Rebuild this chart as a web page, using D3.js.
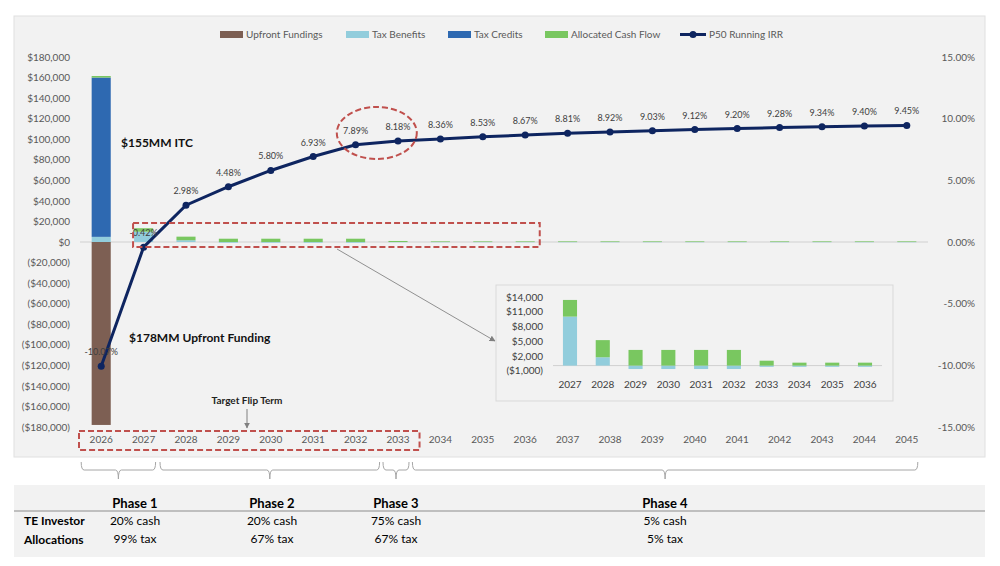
<html>
<head>
<title>TE Investor Flip</title>
<script src="https://cdnjs.cloudflare.com/ajax/libs/d3/7.8.5/d3.min.js"></script>
<style>
  body { margin: 0; background: #fff; }
  text { font-family: Lato, "Open Sans", sans-serif; }
</style>
</head>
<body>
<script>
// values in $000s
var years = ["2026","2027","2028","2029","2030","2031","2032","2033","2034","2035",
             "2036","2037","2038","2039","2040","2041","2042","2043","2044","2045"];
var upfront     = [-178000, 0, 0, 0, 0, 0, 0, 0, 0, 0, 0, 0, 0, 0, 0, 0, 0, 0, 0, 0];
var taxBenefits = [5000, 10000, 1700, -700, -700, -700, -700, -250, -250, -250,
                   -250, -250, -250, -250, -250, -250, -250, -250, -250, -250];
var taxCredits  = [155000, 0, 0, 0, 0, 0, 0, 0, 0, 0, 0, 0, 0, 0, 0, 0, 0, 0, 0, 0];
var cashFlow    = [1500, 3400, 3500, 3200, 3200, 3200, 3200, 1000, 600, 600,
                   600, 600, 600, 600, 600, 600, 600, 600, 600, 600];
var irr = [-10.07, -0.42, 2.98, 4.48, 5.80, 6.93, 7.89, 8.18, 8.36, 8.53,
           8.67, 8.81, 8.92, 9.03, 9.12, 9.20, 9.28, 9.34, 9.40, 9.45];
var leftTicks  = d3.range(-180000, 180001, 20000);
var rightTicks = [-15, -10, -5, 0, 5, 10, 15];
var insetYears = years.slice(1, 11);
var insetTicks = [-1000, 2000, 5000, 8000, 11000, 14000];
var phases     = ["Phase 1", "Phase 2", "Phase 3", "Phase 4"];
var phaseCash  = ["20% cash", "20% cash", "75% cash", "5% cash"];
var phaseTax   = ["99% tax", "67% tax", "67% tax", "5% tax"];
var phaseSpans = [["2026","2027"], ["2028","2032"], ["2033","2033"], ["2034","2045"]];

var colors = { upfront: "#7d5f53", benefits: "#92cddc", credits: "#2e69b1", cash: "#79c760" };
var navy = "#0e2560", red = "#c0504d", txt = "#595959";

var svg = d3.select("body").append("svg").attr("width", 1000).attr("height", 566);

// panel
svg.append("rect").attr("x", 14).attr("y", 16).attr("width", 971).attr("height", 441)
   .attr("fill", "#f2f2f2").attr("stroke", "#e0e0e0");

var x = d3.scaleBand().domain(years).range([80, 928]).paddingInner(0.55).paddingOuter(0.275);
var yL = d3.scaleLinear().domain([-180000, 180000]).range([427, 57]);
var yR = d3.scaleLinear().domain([-15, 15]).range([427, 57]);
var cxY = function(y){ return x(y) + x.bandwidth() / 2; };

// axes (labels only)
var money = function(d){ return d < 0 ? "($" + d3.format(",")(-d) + ")" : "$" + d3.format(",")(d); };
var leftAxis = svg.append("g").attr("transform", "translate(70,0)")
   .call(d3.axisLeft(yL).tickValues(leftTicks).tickSize(0).tickPadding(0).tickFormat(money));
var rightAxis = svg.append("g").attr("transform", "translate(975,0)")
   .call(d3.axisLeft(yR).tickValues(rightTicks).tickSize(0).tickPadding(0)
     .tickFormat(function(d){ return d.toFixed(2) + "%"; }));
var xAxis = svg.append("g").attr("transform", "translate(0,434)")
   .call(d3.axisBottom(x).tickSize(0).tickPadding(2));
[leftAxis, rightAxis, xAxis].forEach(function(a){
  a.select(".domain").remove();
  a.selectAll("text").attr("fill", txt).style("font-size", "10px").style("font-family", "Lato, sans-serif");
});

// zero line
svg.append("line").attr("x1", 80).attr("x2", 928).attr("y1", yL(0)).attr("y2", yL(0))
   .attr("stroke", "#d0d0d0");

// stacked bars
var keys = ["upfront", "benefits", "credits", "cash"];
var rows = years.map(function(y, i){
  return { year: y, upfront: upfront[i], benefits: taxBenefits[i], credits: taxCredits[i], cash: cashFlow[i] };
});
var stack = d3.stack().keys(keys).offset(d3.stackOffsetDiverging)(rows);
svg.append("g").selectAll("g").data(stack).enter().append("g")
   .attr("fill", function(d){ return colors[d.key]; })
   .selectAll("rect").data(function(d){ return d; }).enter().append("rect")
   .attr("x", function(d){ return x(d.data.year); })
   .attr("width", x.bandwidth())
   .attr("y", function(d){ return yL(Math.max(d[0], d[1])); })
   .attr("height", function(d){ return Math.abs(yL(d[0]) - yL(d[1])); });

// IRR line
var cx = function(i){ return cxY(years[i]); };
svg.append("path").datum(irr)
   .attr("d", d3.line().x(function(d, i){ return cx(i); }).y(function(d){ return yR(d); }))
   .attr("fill", "none").attr("stroke", navy).attr("stroke-width", 3);
svg.append("g").selectAll("circle").data(irr).enter().append("circle")
   .attr("cx", function(d, i){ return cx(i); }).attr("cy", function(d){ return yR(d); })
   .attr("r", 3.5).attr("fill", navy);
svg.append("g").selectAll("text").data(irr).enter().append("text")
   .attr("x", function(d, i){ return cx(i); }).attr("y", function(d){ return yR(d) - 11; })
   .attr("text-anchor", "middle").attr("fill", "#404040").style("font-size", "9px")
   .text(function(d){ return d.toFixed(2) + "%"; });

// legend
var legend = [
  { label: "Upfront Fundings", color: colors.upfront, x: 220 },
  { label: "Tax Benefits", color: colors.benefits, x: 346 },
  { label: "Tax Credits", color: colors.credits, x: 448 },
  { label: "Allocated Cash Flow", color: colors.cash, x: 545 }
];
var lg = svg.append("g");
legend.forEach(function(l){
  lg.append("rect").attr("x", l.x).attr("y", 31).attr("width", 23).attr("height", 7).attr("fill", l.color);
  lg.append("text").attr("x", l.x + 26).attr("y", 38).attr("fill", txt).style("font-size", "10px").text(l.label);
});
lg.append("line").attr("x1", 680).attr("x2", 706).attr("y1", 34.5).attr("y2", 34.5).attr("stroke", navy).attr("stroke-width", 3);
lg.append("circle").attr("cx", 693).attr("cy", 34.5).attr("r", 3.5).attr("fill", navy);
lg.append("text").attr("x", 709).attr("y", 38).attr("fill", txt).style("font-size", "10px").text("P50 Running IRR");

// annotations
svg.append("text").attr("x", 121).attr("y", 147).style("font-size", "12px").style("font-weight", "bold")
   .attr("fill", "#111").text("$155MM ITC");
svg.append("text").attr("x", 129).attr("y", 342).style("font-size", "12px").style("font-weight", "bold")
   .attr("fill", "#111").text("$178MM Upfront Funding");
svg.append("text").attr("x", 247).attr("y", 404).attr("text-anchor", "middle").style("font-size", "10px")
   .style("font-weight", "bold").attr("fill", "#222").text("Target Flip Term");

var defs = svg.append("defs");
defs.append("marker").attr("id", "arr").attr("viewBox", "0 0 10 10").attr("refX", 9).attr("refY", 5)
   .attr("markerWidth", 6).attr("markerHeight", 6).attr("orient", "auto")
   .append("path").attr("d", "M0,0L10,5L0,10z").attr("fill", "#808080");
svg.append("line").attr("x1", 247).attr("y1", 409).attr("x2", 247).attr("y2", 428)
   .attr("stroke", "#808080").attr("marker-end", "url(#arr)");
svg.append("line").attr("x1", 337).attr("y1", 249).attr("x2", 495).attr("y2", 341)
   .attr("stroke", "#909090").attr("marker-end", "url(#arr)");

// dashed highlights
var dash = { stroke: red, "stroke-width": 2, "stroke-dasharray": "6,3", fill: "none" };
function dashed(sel){ Object.keys(dash).forEach(function(k){ sel.attr(k, dash[k]); }); return sel; }
dashed(svg.append("rect").attr("x", x("2027") - 1).attr("y", 223)
   .attr("width", x("2036") + x.bandwidth() + 5 - (x("2027") - 1)).attr("height", 24));
dashed(svg.append("ellipse").attr("cx", (cx(6) + cx(7)) / 2).attr("cy", 133).attr("rx", 40).attr("ry", 26));
dashed(svg.append("rect").attr("x", 79).attr("y", 431)
   .attr("width", x("2033") + x.bandwidth() + 12 - 79).attr("height", 19));

// inset chart
svg.append("rect").attr("x", 496).attr("y", 285).attr("width", 397).attr("height", 116)
   .attr("fill", "#f2f2f2").attr("stroke", "#d9d9d9");
var xi = d3.scaleBand().domain(insetYears).range([553.6, 881.4]).paddingInner(0.57).paddingOuter(0.285);
var yi = d3.scaleLinear().domain([-1000, 14000]).range([370.5, 297]);
var insetRows = rows.slice(1, 11);
var istack = d3.stack().keys(["benefits", "cash"]).offset(d3.stackOffsetDiverging)(insetRows);
svg.append("line").attr("x1", 553).attr("x2", 882).attr("y1", yi(0)).attr("y2", yi(0)).attr("stroke", "#d0d0d0");
svg.append("g").selectAll("g").data(istack).enter().append("g")
   .attr("fill", function(d){ return colors[d.key]; })
   .selectAll("rect").data(function(d){ return d; }).enter().append("rect")
   .attr("x", function(d){ return xi(d.data.year); })
   .attr("width", xi.bandwidth())
   .attr("y", function(d){ return yi(Math.max(d[0], d[1])); })
   .attr("height", function(d){ return Math.abs(yi(d[0]) - yi(d[1])); });
var iy = svg.append("g").attr("transform", "translate(543,0)")
   .call(d3.axisLeft(yi).tickValues(insetTicks).tickSize(0).tickPadding(0).tickFormat(money));
var ix = svg.append("g").attr("transform", "translate(0,379)")
   .call(d3.axisBottom(xi).tickSize(0).tickPadding(2));
[iy, ix].forEach(function(a){
  a.select(".domain").remove();
  a.selectAll("text").attr("fill", "#404040").style("font-size", "10px").style("font-family", "Lato, sans-serif");
});

// phase brackets (ends offset from first / last year centre)
var bracketPad = [[-20, 12], [-26, 24], [-15, 11], [-28, 11]];
phaseSpans.forEach(function(s, i){
  var x1 = cxY(s[0]) + bracketPad[i][0], x2 = cxY(s[1]) + bracketPad[i][1];
  var xc = (x1 + x2) / 2;
  var p = d3.path();
  p.moveTo(x1, 462); p.quadraticCurveTo(x1, 470, x1 + 3, 470);
  p.lineTo(xc - 3, 470); p.quadraticCurveTo(xc, 470, xc, 479);
  p.quadraticCurveTo(xc, 470, xc + 3, 470); p.lineTo(x2 - 3, 470);
  p.quadraticCurveTo(x2, 470, x2, 462);
  svg.append("path").attr("d", p.toString()).attr("fill", "none").attr("stroke", "#a6a6a6");
});

// phase table
svg.append("rect").attr("x", 14).attr("y", 485).attr("width", 971).attr("height", 72).attr("fill", "#f2f2f2");
svg.append("line").attr("x1", 14).attr("x2", 985).attr("y1", 511).attr("y2", 511).attr("stroke", "#8c8c8c").attr("stroke-width", 1.2);
svg.append("text").attr("x", 24).attr("y", 525).style("font-size", "12px").style("font-weight", "bold").text("TE Investor");
svg.append("text").attr("x", 24).attr("y", 544).style("font-size", "12px").style("font-weight", "bold").text("Allocations");
var pcx = [135, 272, 396, 665];
phases.forEach(function(ph, i){
  svg.append("text").attr("x", pcx[i]).attr("y", 508).attr("text-anchor", "middle")
     .style("font-size", "13px").style("font-weight", "bold").text(ph);
  svg.append("text").attr("x", pcx[i]).attr("y", 525).attr("text-anchor", "middle")
     .style("font-size", "12px").text(phaseCash[i]);
  svg.append("text").attr("x", pcx[i]).attr("y", 543).attr("text-anchor", "middle")
     .style("font-size", "12px").text(phaseTax[i]);
});
</script>
</body>
</html>
